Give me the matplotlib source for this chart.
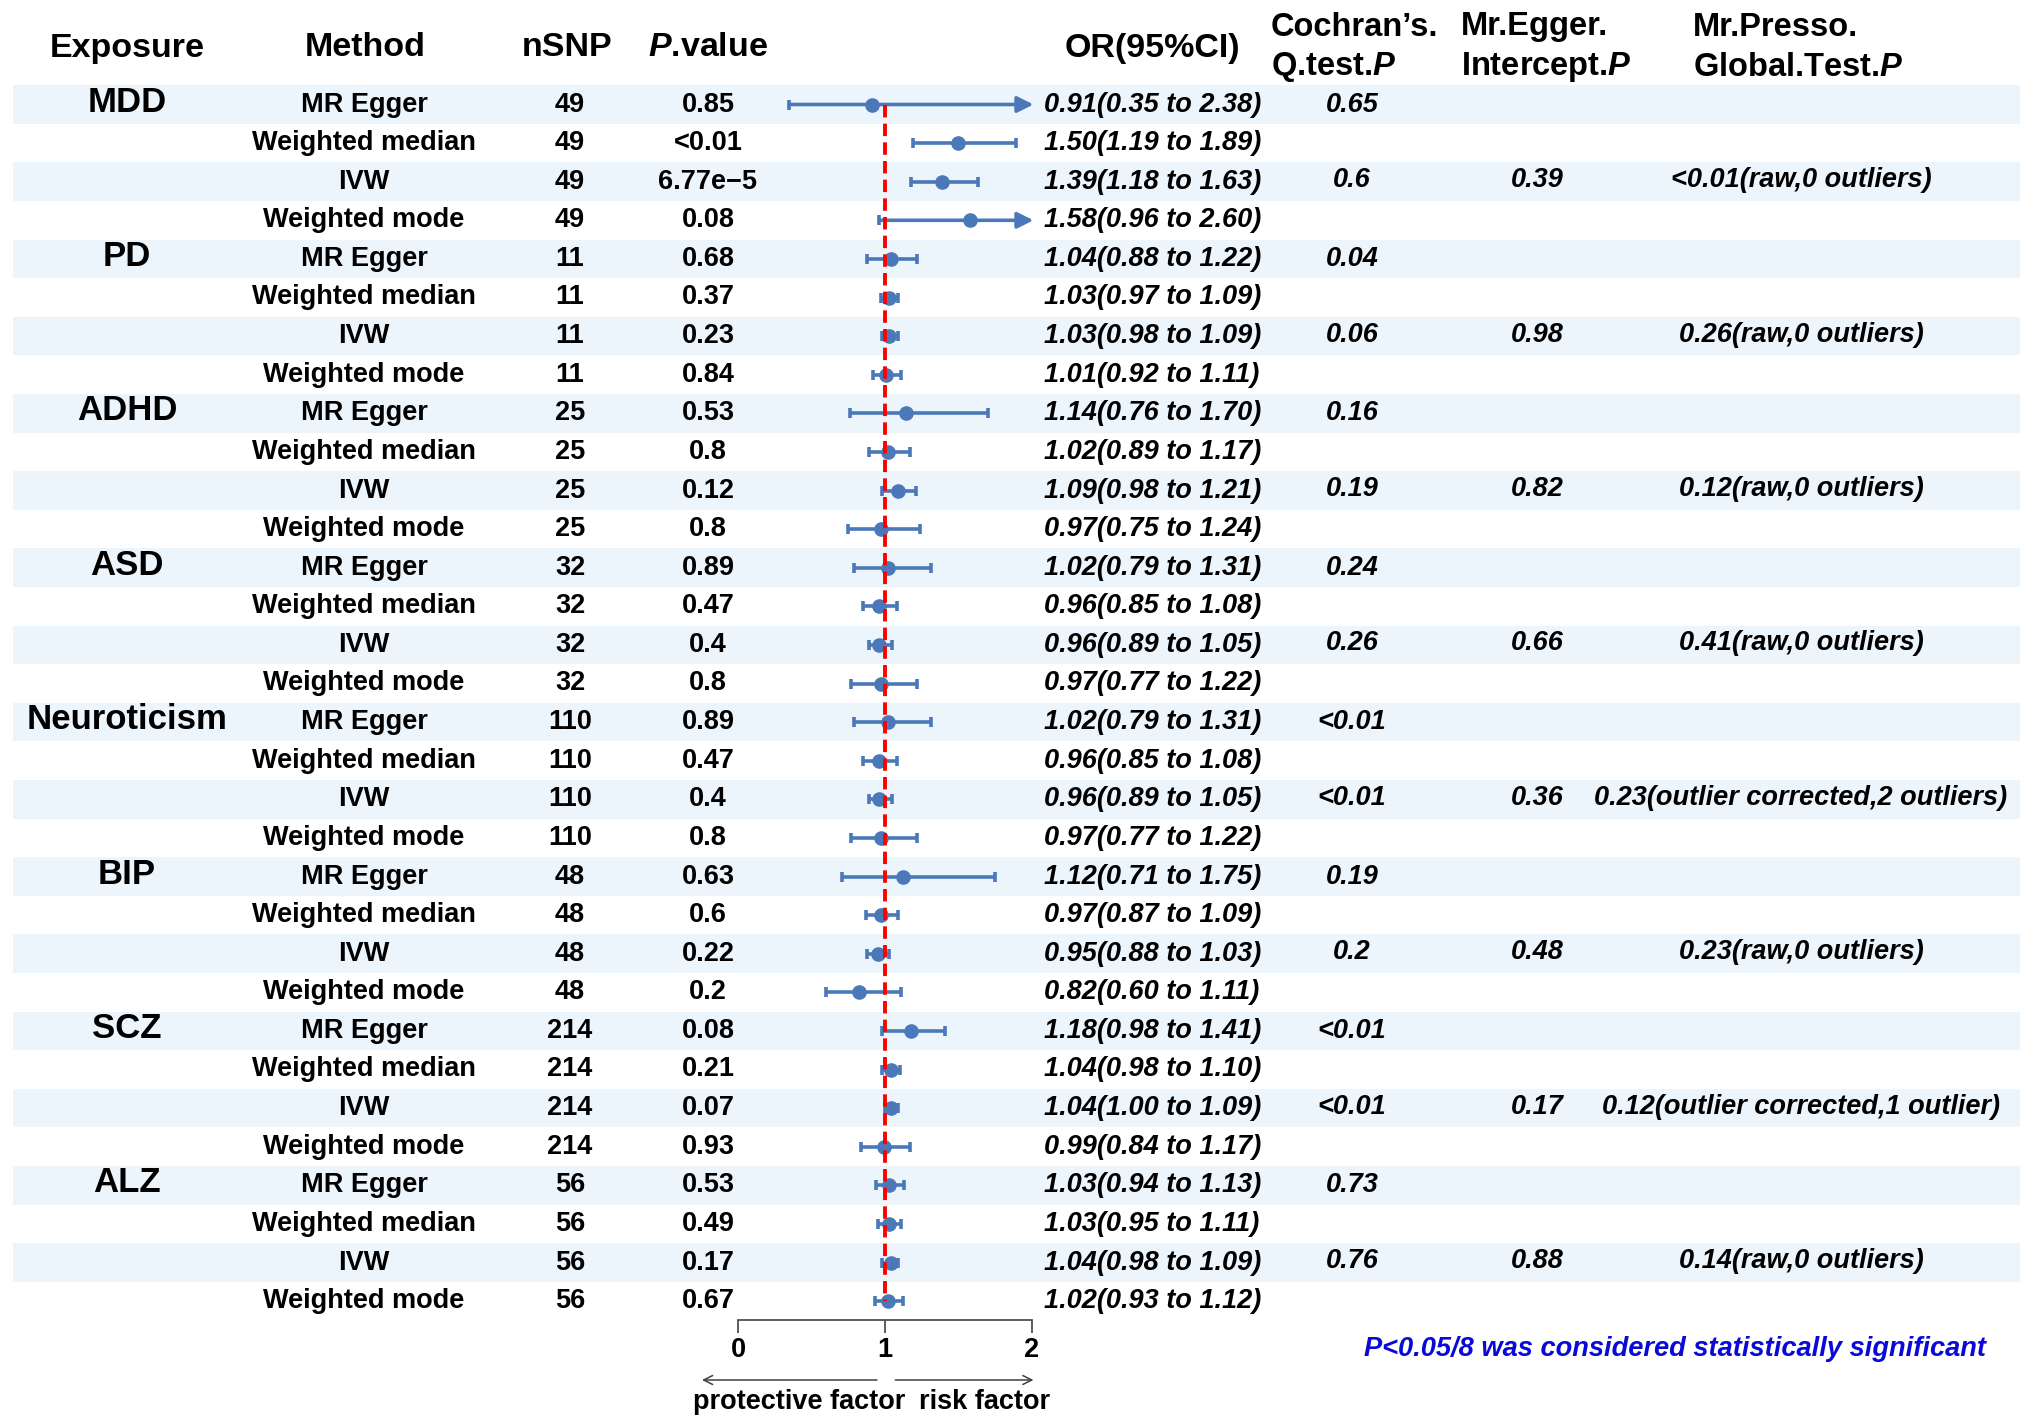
import matplotlib
matplotlib.use("Agg")
import matplotlib.pyplot as plt
from matplotlib.transforms import blended_transform_factory

plt.rcParams['font.family'] = ['Liberation Sans', 'DejaVu Sans']
plt.rcParams['font.weight'] = 'bold'
plt.rcParams['mathtext.fontset'] = 'custom'
plt.rcParams['mathtext.it'] = 'Liberation Sans:italic:bold'
plt.rcParams['mathtext.rm'] = 'Liberation Sans:bold'
plt.rcParams['mathtext.bf'] = 'Liberation Sans:bold'

# ---------------- data ----------------
exposures = ['MDD', 'PD', 'ADHD', 'ASD', 'Neuroticism', 'BIP', 'SCZ', 'ALZ']
methods = ['MR Egger', 'Weighted median', 'IVW', 'Weighted mode']
nsnp = [49, 11, 25, 32, 110, 48, 214, 56]
pvals = ['0.85', '<0.01', '6.77e\u22125', '0.08',
         '0.68', '0.37', '0.23', '0.84',
         '0.53', '0.8', '0.12', '0.8',
         '0.89', '0.47', '0.4', '0.8',
         '0.89', '0.47', '0.4', '0.8',
         '0.63', '0.6', '0.22', '0.2',
         '0.08', '0.21', '0.07', '0.93',
         '0.53', '0.49', '0.17', '0.67']
or_est = [0.91, 1.50, 1.39, 1.58, 1.04, 1.03, 1.03, 1.01,
          1.14, 1.02, 1.09, 0.97, 1.02, 0.96, 0.96, 0.97,
          1.02, 0.96, 0.96, 0.97, 1.12, 0.97, 0.95, 0.82,
          1.18, 1.04, 1.04, 0.99, 1.03, 1.03, 1.04, 1.02]
or_lo = [0.35, 1.19, 1.18, 0.96, 0.88, 0.97, 0.98, 0.92,
         0.76, 0.89, 0.98, 0.75, 0.79, 0.85, 0.89, 0.77,
         0.79, 0.85, 0.89, 0.77, 0.71, 0.87, 0.88, 0.60,
         0.98, 0.98, 1.00, 0.84, 0.94, 0.95, 0.98, 0.93]
or_hi = [2.38, 1.89, 1.63, 2.60, 1.22, 1.09, 1.09, 1.11,
         1.70, 1.17, 1.21, 1.24, 1.31, 1.08, 1.05, 1.22,
         1.31, 1.08, 1.05, 1.22, 1.75, 1.09, 1.03, 1.11,
         1.41, 1.10, 1.09, 1.17, 1.13, 1.11, 1.09, 1.12]
cochran_egger = ['0.65', '0.04', '0.16', '0.24', '<0.01', '0.19', '<0.01', '0.73']
cochran_ivw = ['0.6', '0.06', '0.19', '0.26', '<0.01', '0.2', '<0.01', '0.76']
egger_int = ['0.39', '0.98', '0.82', '0.66', '0.36', '0.48', '0.17', '0.88']
presso = ['<0.01(raw,0 outliers)', '0.26(raw,0 outliers)', '0.12(raw,0 outliers)',
          '0.41(raw,0 outliers)', '0.23(outlier corrected,2 outliers)',
          '0.23(raw,0 outliers)', '0.12(outlier corrected,1 outlier)',
          '0.14(raw,0 outliers)']
xticks = [0, 1, 2]

# ---------------- layout ----------------
W, H = 2033, 1428
row0, dy = 104.5, 38.6
axis_y = 1320
x0_px, x2_px = 738, 1032
stripe = '#EDF5FC'
blue = '#4A78B8'
fs_row = 19.5
fs_head = 24.5
fs_head2 = 23.5

fig = plt.figure(figsize=(W / 100, H / 100), dpi=100)
tab = fig.add_axes([0, 0, 1, 1])
tab.set_xlim(0, W)
tab.set_ylim((H - row0) / dy, -row0 / dy)
tab.axis('off')

n_rows = len(or_est)
for i in range(0, n_rows, 2):
    tab.fill_between([13, 2020], i - 0.5, i + 0.5, color=stripe, lw=0, zorder=0)

# headers
hy = (48 - row0) / dy
h1 = (27 - row0) / dy
h2 = (67 - row0) / dy
tab.text(127, hy, 'Exposure', ha='center', va='center', fontsize=fs_head)
tab.text(365, hy, 'Method', ha='center', va='center', fontsize=fs_head)
tab.text(567, hy, 'nSNP', ha='center', va='center', fontsize=fs_head)
tab.text(708, hy, r'$\mathit{P}$.value', ha='center', va='center', fontsize=fs_head)
tab.text(1152, hy, 'OR(95%CI)', ha='center', va='center', fontsize=fs_head)
tab.text(1271, h1, 'Cochran\u2019s.', ha='left', va='center', fontsize=fs_head2)
tab.text(1271, h2, r'Q.test.$\mathit{P}$', ha='left', va='center', fontsize=fs_head2)
tab.text(1461, h1, 'Mr.Egger.', ha='left', va='center', fontsize=fs_head2)
tab.text(1461, h2, r'Intercept.$\mathit{P}$', ha='left', va='center', fontsize=fs_head2)
tab.text(1693, h1, 'Mr.Presso.', ha='left', va='center', fontsize=fs_head2)
tab.text(1693, h2, r'Global.Test.$\mathit{P}$', ha='left', va='center', fontsize=fs_head2)

for g, expo in enumerate(exposures):
    base = g * len(methods)
    tab.text(127, base - 0.06, expo, ha='center', va='center', fontsize=25)
    for m, meth in enumerate(methods):
        i = base + m
        tab.text(364, i, meth, ha='center', va='center', fontsize=fs_row)
        tab.text(570, i, str(nsnp[g]), ha='center', va='center', fontsize=fs_row)
        tab.text(708, i, pvals[i], ha='center', va='center', fontsize=fs_row)
        tab.text(1044, i, f'{or_est[i]:.2f}({or_lo[i]:.2f} to {or_hi[i]:.2f})',
                 ha='left', va='center', fontsize=fs_row, style='italic')
    tab.text(1352, base, cochran_egger[g], ha='center', va='center',
             fontsize=fs_row, style='italic')
    tab.text(1352, base + 2 - 0.04, cochran_ivw[g], ha='center', va='center',
             fontsize=fs_row, style='italic')
    tab.text(1537, base + 2 - 0.04, egger_int[g], ha='center', va='center',
             fontsize=fs_row, style='italic')
    tab.text(1801, base + 2 - 0.04, presso[g], ha='center', va='center',
             fontsize=fs_row, style='italic')

tab.text(1675, (1349 - row0) / dy, 'P<0.05/8 was considered statistically significant',
         ha='center', va='center', fontsize=19.6, style='italic', color='#0A0AD8')

# ---------------- forest ----------------
fax = fig.add_axes([x0_px / W, (H - axis_y) / H, (x2_px - x0_px) / W, axis_y / H])
fax.patch.set_alpha(0)
fax.set_xlim(0, 2)
fax.set_ylim((axis_y - row0) / dy, -row0 / dy)
for s in ['top', 'left', 'right']:
    fax.spines[s].set_visible(False)
fax.spines['bottom'].set_color('#505050')
fax.spines['bottom'].set_linewidth(1.3)
fax.set_yticks([])
fax.set_xticks(xticks)
fax.set_xticklabels([str(t) for t in xticks], fontsize=19.5, fontweight='bold')
fax.tick_params(axis='x', direction='out', length=9.5, width=1.3, color='#505050', pad=3)

xmax = xticks[-1]
for i in range(n_rows):
    lo, hi, est = or_lo[i], or_hi[i], or_est[i]
    fax.plot([lo], [i], marker='|', ms=7.5, mew=2.6, color=blue, clip_on=False, zorder=3)
    if hi > xmax:
        fax.annotate('', xy=(xmax + 0.01, i), xytext=(lo, i),
                     arrowprops=dict(arrowstyle='-|>', lw=2.6, color=blue,
                                     mutation_scale=24, shrinkA=0, shrinkB=0),
                     annotation_clip=False, zorder=3)
    else:
        fax.plot([lo, hi], [i, i], color=blue, lw=2.6, clip_on=False, zorder=3,
                 solid_capstyle='butt')
        fax.plot([hi], [i], marker='|', ms=7.5, mew=2.6, color=blue, clip_on=False, zorder=3)
    fax.plot([est], [i], marker='o', ms=9.5, color=blue, clip_on=False, zorder=4)

fax.plot([1, 1], [0, n_rows - 1], color='#FF0000', lw=2.8,
         linestyle=(0, (3.2, 1.6)), zorder=5, clip_on=False)

# protective / risk arrows
tr = blended_transform_factory(fax.transData, fax.transAxes)
ya = (axis_y - 1380) / axis_y
yl = (axis_y - 1402) / axis_y
fax.annotate('', xy=(-0.245, ya), xytext=(0.945, ya), xycoords=tr, textcoords=tr,
             arrowprops=dict(arrowstyle='->', lw=1.1, color='#404040',
                             mutation_scale=16, shrinkA=0, shrinkB=0),
             annotation_clip=False)
fax.annotate('', xy=(2.01, ya), xytext=(1.07, ya), xycoords=tr, textcoords=tr,
             arrowprops=dict(arrowstyle='->', lw=1.1, color='#404040',
                             mutation_scale=16, shrinkA=0, shrinkB=0),
             annotation_clip=False)
fax.text(0.415, yl, 'protective factor', transform=tr, ha='center', va='center',
         fontsize=19.5, fontweight='bold')
fax.text(1.68, yl, 'risk factor', transform=tr, ha='center', va='center',
         fontsize=19.5, fontweight='bold')

fig.savefig('out.png', dpi=100)
